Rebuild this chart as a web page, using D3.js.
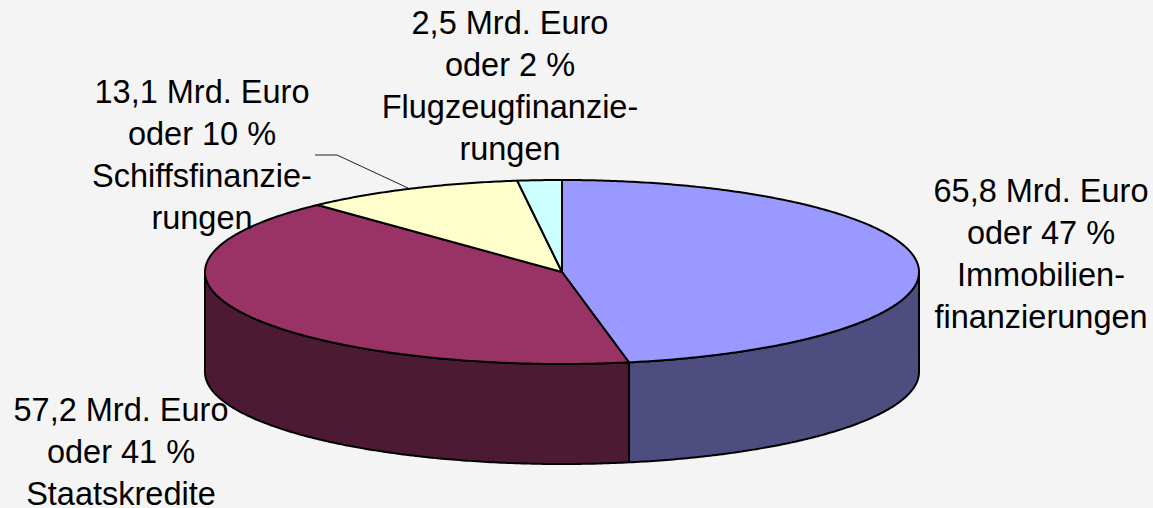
<!DOCTYPE html>
<html><head><meta charset="utf-8">
<script src="https://cdn.jsdelivr.net/npm/d3@7"></script>
<style>html,body{margin:0;padding:0;background:#f4f4f4}svg{display:block}
text{font-family:"Liberation Sans",Arial,sans-serif;font-size:32.5px;fill:#000;text-anchor:middle}</style>
</head><body><svg id="c" width="1153" height="508"></svg>
<script>
const categories = ["Immobilienfinanzierungen","Staatskredite","Schiffsfinanzierungen","Flugzeugfinanzierungen"];
const percents = [47,41,10,2];
const amounts = ["65,8","57,2","13,1","2,5"];
const topColors = ["#9999ff","#993366","#ffffcc","#ccffff"];
const sideColors = ["#4d4d80","#4d1a33","#808066","#668080"];
const labelLines = [
  ["65,8 Mrd. Euro","oder 47 %","Immobilien-","finanzierungen"],
  ["57,2 Mrd. Euro","oder 41 %","Staatskredite"],
  ["13,1 Mrd. Euro","oder 10 %","Schiffsfinanzie-","rungen"],
  ["2,5 Mrd. Euro","oder 2 %","Flugzeugfinanzie-","rungen"]];
const labelAnchors = [[1041,202],[121,421],[202,103],[510,34]];
const lineGap = 42;

const svg = d3.select("#c");
const sx = d3.scaleLinear().domain([-1,1]).range([205,919]);
const sy = d3.scaleLinear().domain([-1,1]).range([180,364]);
const depth = 100;
const slices = d3.pie().sort(null).value(d=>d)(percents);
const pt = (a,dy=0)=>[sx(Math.sin(a)), sy(-Math.cos(a))+dy];
const line = d3.line();
const arcPts = (a0,a1,dy=0)=>{
  const n = Math.max(2,Math.ceil((a1-a0)/0.01));
  return d3.range(n+1).map(i=>pt(a0+(a1-a0)*i/n,dy));
};

// side walls
slices.forEach((s,i)=>{
  const a0=Math.max(s.startAngle,Math.PI/2), a1=Math.min(s.endAngle,Math.PI*1.5);
  if(a1<=a0) return;
  const p=[...arcPts(a0,a1),...arcPts(a0,a1,depth).reverse()];
  svg.append("path").attr("d",line(p)+"Z").attr("fill",sideColors[i])
    .attr("stroke","#000").attr("stroke-width",2).attr("stroke-linejoin","round");
});
// top
slices.forEach((s,i)=>{
  const p=[[sx(0),sy(0)],...arcPts(s.startAngle,s.endAngle)];
  svg.append("path").attr("d",line(p)+"Z").attr("fill",topColors[i])
    .attr("stroke","#000").attr("stroke-width",2).attr("stroke-linejoin","round");
});
// leader
svg.append("path").attr("d",line([[315,155],[337,155],[408,188]])).attr("fill","none")
  .attr("stroke","#222").attr("stroke-width",1);
// labels
labelLines.forEach((ls,i)=>{
  const t=svg.append("text").attr("aria-label",categories[i]);
  ls.forEach((l,j)=>t.append("tspan").attr("x",labelAnchors[i][0]).attr("y",labelAnchors[i][1]+j*lineGap).text(l));
});
</script></body></html>
